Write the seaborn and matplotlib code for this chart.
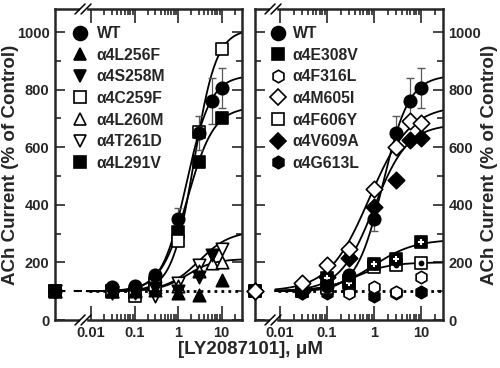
import numpy as np
import pandas as pd
import matplotlib
matplotlib.use("Agg")
import matplotlib.pyplot as plt
from matplotlib.lines import Line2D
import seaborn as sns

# concentrations (uM); control point sits at the left spine
conc = [0.03, 0.1, 0.3, 1, 3, 6, 10]
conc6 = [0.03, 0.1, 0.3, 1, 3, 10]

wt = [114, 118, 157, 350, 650, 760, 805]
wt_err = [10, 12, 18, 40, 60, 80, 70]

# left panel mutants
l256f = [100, 100, 105, 93, 88, 140]
s258m = [98, 95, 110, 100, 150, 225]
s258m_conc = [0.03, 0.1, 0.3, 1, 3, 6]
c259f = [100, 85, 120, 275, 652, 942]
l260m = [100, 105, 115, 118, 170, 198, 200]
t261d = [95, 100, 82, 128, 192, 245]
l291v = [100, 95, 130, 305, 550, 703]

# right panel mutants
e308v = [100, 145, 130, 195, 212, 272]
f316l = [105, 125, 95, 115, 97, 150]
m605i = [128, 191, 245, 456, 602, 690, 685]
f606y = [100, 110, 135, 183, 190, 198]
v609a = [100, 150, 215, 393, 487, 626, 633]
g613l = [94, 94, 100, 85, 95, 97]

# Hill fit parameters (top, EC50, slope); bottom = 100
fits_left = {"WT": (850, 1.56, 1.55), "C259F": (1010, 2.35, 1.7),
             "L291V": (740, 1.63, 1.42), "L260M": (212, 1.6, 1.4),
             "T261D": (310, 3.0, 1.2)}
fits_right = {"WT": (850, 1.56, 1.55), "M605I": (745, 0.8, 1.0),
              "V609A": (680, 1.0, 1.2), "E308V": (280, 1.0, 1.0),
              "F606Y": (200, 0.4, 1.2)}

sns.set_theme(style="ticks")
plt.rcParams["font.family"] = ["Liberation Sans", "DejaVu Sans"]
plt.rcParams["font.weight"] = "bold"

fig = plt.figure(figsize=(5, 3.68), dpi=100)
axL = fig.add_axes([55 / 500, 48 / 368, 187 / 500, 311 / 368])
axR = fig.add_axes([255 / 500, 48 / 368, 188 / 500, 311 / 368])

xlimL = (10 ** -2.83, 10 ** 1.47)
xlimR = (10 ** -2.53, 10 ** 1.47)
MS = 80


def hill(x, top, ec, n):
    return 100 + (top - 100) * x ** n / (ec ** n + x ** n)


def pts(ax, x, y, marker, filled, x0, s=MS, zorder=3):
    xs = [x0] + list(x)
    ys = [100] + list(y)
    sns.scatterplot(x=xs, y=ys, ax=ax, marker=marker, s=s,
                    color="black" if filled else "white", edgecolor="black",
                    linewidth=1.2, zorder=zorder, clip_on=False, legend=False)


def curves(ax, fits, xmax):
    xs = np.logspace(-2.1, np.log10(xmax), 200)
    for name, (top, ec, n) in fits.items():
        sns.lineplot(x=xs, y=hill(xs, top, ec, n), ax=ax, color="black",
                     lw=1.3, zorder=2, legend=False)


def style(ax, xlim, side, brk, wpx):
    ax.set_xscale("log")
    ax.set_xlim(*xlim)
    ax.set_ylim(0, 1080)
    ax.set_yticks(range(0, 1001, 200))
    ax.set_yticks(range(100, 1001, 200), minor=True)
    ax.set_xticks([0.01, 0.1, 1, 10])
    ax.set_xticklabels(["0.01", "0.1", "1", "10"])
    minors = [m * d for d in (0.01, 0.1, 1) for m in range(2, 10)] + [20]
    ax.set_xticks(minors, minor=True)
    ax.xaxis.set_minor_formatter(plt.NullFormatter())
    for t in ax.xaxis.get_major_ticks()[:1]:
        t.tick1line.set_visible(False)
        t.tick2line.set_visible(False)
    ax.tick_params(which="both", direction="in", top=True, right=True,
                   left=True, bottom=True, width=1.2, labelsize=10.5)
    ax.tick_params(which="major", length=7, pad=4)
    ax.tick_params(which="minor", length=4)
    ax.tick_params(axis="x", which="major", length=10)
    if side == "right":
        ax.tick_params(axis="y", labelleft=False, labelright=True)
        ax.yaxis.set_label_position("right")
    for sp in ax.spines.values():
        sp.set_linewidth(1.8)
        sp.set_visible(True)
    for lab in ax.get_xticklabels() + ax.get_yticklabels():
        lab.set_fontweight("bold")
    ax.set_ylabel("ACh Current (% of Control)", fontsize=13.5,
                  fontweight="bold", va="center")
    if side == "right":
        ax.yaxis.set_label_coords((490 - 255) / wpx, 0.5)
    else:
        ax.yaxis.set_label_coords((11 - 55) / wpx, 0.5)
    ax.set_xlabel("")
    # axis break marks on top and bottom spines
    hpx = 311.0
    for yb in (0, 1):
        for dx in (-3, 3):
            ax.plot([brk + (dx - 5) / wpx, brk + (dx + 5) / wpx],
                    [yb - 5 / hpx, yb + 5 / hpx], color="black", lw=1.1,
                    transform=ax.transAxes, clip_on=False, zorder=6)
        ax.fill([brk - 3 / wpx, brk + 3 / wpx, brk + 3 / wpx, brk - 3 / wpx],
                [yb - 1.5 / hpx, yb - 1.5 / hpx, yb + 1.5 / hpx, yb + 1.5 / hpx],
                color="white", transform=ax.transAxes, clip_on=False, zorder=5)


# ---- left panel ----
axL.plot([xlimL[0], 10 ** -2.22], [100, 100], color="black", lw=1.5,
         ls=(0, (5, 4)), zorder=1)
axL.plot([10 ** -2.05, xlimL[1]], [100, 100], color="black", lw=2,
         ls=(0, (1, 1.5)), zorder=1)
curves(axL, fits_left, xlimL[1])
axL.errorbar(conc, wt, yerr=wt_err, fmt="none", ecolor="0.35", elinewidth=0.9,
             capsize=3, zorder=2)
x0 = xlimL[0]
pts(axL, conc6, l291v, "s", True, x0)
pts(axL, conc6, t261d, "v", False, x0)
pts(axL, conc, l260m, "^", False, x0)
pts(axL, conc6, c259f, "s", False, x0)
pts(axL, s258m_conc, s258m, "v", True, x0)
pts(axL, conc6, l256f, "^", True, x0)
pts(axL, conc, wt, "o", True, x0, zorder=4)
style(axL, xlimL, "left", 0.15, 187.0)

# ---- right panel ----
axR.plot([10 ** -2.05, xlimR[1]], [100, 100], color="black", lw=2,
         ls=(0, (1, 1.5)), zorder=1)
curves(axR, fits_right, xlimR[1])
axR.errorbar(conc, wt, yerr=wt_err, fmt="none", ecolor="0.35", elinewidth=0.9,
             capsize=3, zorder=2)
x0 = xlimR[0]
pts(axR, conc6, g613l, "h", True, x0)
pts(axR, conc6, f316l, "h", False, x0)
pts(axR, conc6, f606y, "s", False, x0)
axR.scatter(conc6, f606y, marker="o", s=10, color="black", zorder=4)
pts(axR, conc6, e308v, "s", True, x0)
axR.scatter(conc6, e308v, marker="+", s=25, color="white", linewidths=1.5, zorder=4)
pts(axR, conc, v609a, "D", True, x0, s=70)
pts(axR, conc, wt, "o", True, x0, zorder=4)
pts(axR, conc, m605i, "D", False, x0, s=70, zorder=5)
style(axR, xlimR, "right", 0.096, 188.0)


def legend(ax, items, xoff, pad):
    handles = [Line2D([], [], ls="none", marker=m, markersize=ms,
                      markerfacecolor=fc, markeredgecolor="black",
                      markeredgewidth=1.2, label=lab)
               for lab, m, fc, ms in items]
    leg = ax.legend(handles=handles, loc="upper left",
                    bbox_to_anchor=(xoff, 0.98), frameon=False,
                    handlelength=1.0, handletextpad=pad, labelspacing=0.42,
                    borderaxespad=0.3, prop={"weight": "bold", "size": 11.3})
    return leg


legend(axL, [("WT", "o", "black", 10), ("α4L256F", "^", "black", 9),
             ("α4S258M", "v", "black", 9), ("α4C259F", "s", "white", 9),
             ("α4L260M", "^", "white", 9), ("α4T261D", "v", "white", 9),
             ("α4L291V", "s", "black", 9)], 0.035, 0.55)
legend(axR, [("WT", "o", "black", 10), ("α4E308V", "s", "black", 8),
             ("α4F316L", "h", "white", 9), ("α4M605I", "D", "white", 8),
             ("α4F606Y", "s", "white", 8), ("α4V609A", "D", "black", 8),
             ("α4G613L", "h", "black", 9)], 0.02, 0.45)

fig.text(0.5, 1 - 350 / 368, "[LY2087101], μM", ha="center", va="center",
         fontsize=13.5, fontweight="bold")

fig.savefig("out.png", dpi=100)
